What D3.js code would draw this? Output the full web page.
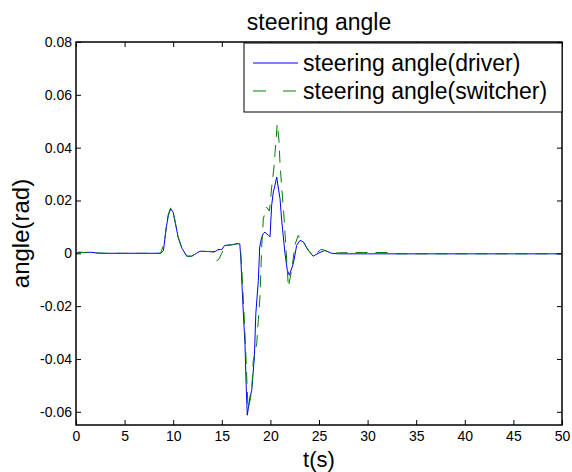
<!DOCTYPE html>
<html><head><meta charset="utf-8">
<script src="https://cdn.jsdelivr.net/npm/d3@7"></script>
<style>body{margin:0;background:#fff}svg{display:block}text{font-family:"Liberation Sans",Arial,sans-serif}</style>
</head><body>
<script>
const titleText = "steering angle";
const xLabel = "t(s)";
const yLabel = "angle(rad)";
const seriesNames = ["steering angle(driver)", "steering angle(switcher)"];
const xTicks = [0,5,10,15,20,25,30,35,40,45,50];
const yTicks = [-0.06,-0.04,-0.02,0,0.02,0.04,0.06,0.08];
const yTickLabels = ["-0.06","-0.04","-0.02","0","0.02","0.04","0.06","0.08"];

const driverT = [0,0.3,0.8,1.5,2.2,3,8.7,9.0,9.15,9.3,9.5,9.74,10.0,10.2,10.5,10.9,11.4,11.9,12.4,12.75,14.1,14.4,14.6,15.0,15.3,16.0,16.7,16.85,16.95,17.15,17.39,17.5,17.62,17.9,18.08,18.35,18.5,18.76,18.9,19.1,19.27,19.44,19.8,19.96,20.13,20.3,20.47,20.65,20.8,20.99,21.16,21.5,21.74,21.95,22.36,22.7,23.05,23.4,23.9,24.4,24.9,25.6,26.3,27,30,35,40,45,50];
const driverV = [0,0.0004,0.0003,0.0004,0.0001,0,0,0.001,0.0057,0.010,0.0144,0.0169,0.0155,0.0119,0.0062,0.0019,-0.0011,-0.0011,0,0.0008,0.0006,0.0008,0.0014,0.0014,0.003,0.0032,0.0037,0.0036,-0.0014,-0.0178,-0.0348,-0.0493,-0.0613,-0.0544,-0.0519,-0.0393,-0.0228,-0.0102,0.0024,0.006,0.0075,0.008,0.0068,0.0062,0.0182,0.0232,0.0257,0.0289,0.0251,0.0207,0.0125,0,-0.0064,-0.0083,-0.0039,0.003,0.0049,0.0043,0.0011,-0.0011,0,0.0011,0,-0.0002,-0.0002,-0.0002,-0.0002,-0.0002,-0.0002];

const switcherT = [0,0.3,0.8,1.5,2.2,3,8.7,8.9,9.15,9.3,9.5,9.74,10.0,10.2,10.5,10.9,11.4,11.9,12.4,12.75,14.1,14.5,14.7,15.15,15.4,16.0,16.7,16.95,17.05,17.25,17.45,17.6,17.7,17.95,18.1,18.24,18.6,18.76,18.93,19.1,19.27,19.6,19.9,20.13,20.37,20.47,20.58,20.7,20.88,20.99,21.16,21.33,21.6,21.85,22.2,22.55,22.87,23.1,23.5,23.9,24.4,24.9,25.2,25.6,26.3,27,29.6,32.4,33,40,50];
const switcherV = [0,0.0004,0.0003,0.0004,0.0001,0,0,0.002,0.0057,0.0105,0.0148,0.0172,0.0155,0.0119,0.0062,0.0019,-0.0011,-0.0011,0,0.0008,0.0006,-0.0028,-0.0022,0.0012,0.003,0.0032,0.0037,0.0005,-0.006,-0.02,-0.036,-0.05,-0.059,-0.055,-0.0506,-0.0405,-0.034,-0.025,-0.0165,0.002,0.013,0.0175,0.016,0.025,0.0327,0.0377,0.0428,0.049,0.0428,0.034,0.025,0.0175,0.002,-0.0128,-0.006,0.0035,0.0068,0.005,0.0035,0.0012,-0.0008,0.0005,0.0015,0.0011,0,0.0002,0.0003,0.0003,-0.0002,-0.0002,-0.0002];

const colors = ["#0000ff", "#008000"];

const W = 572, H = 472;
const m = {left:76, right:562, top:42, bottom:425};
const svg = d3.select("body").append("svg").attr("width",W).attr("height",H);
const x = d3.scaleLinear().domain([0,50]).range([m.left,m.right]);
const y = d3.scaleLinear().domain([-0.065,0.08]).range([m.bottom,m.top]);

// lines
const line = d3.line().x(d=>x(d[0])).y(d=>y(d[1]));
svg.append("path").datum(driverT.map((t,i)=>[t,driverV[i]]))
  .attr("d",line).attr("fill","none").attr("stroke",colors[0]).attr("stroke-width",1);
svg.append("path").datum(switcherT.map((t,i)=>[t,switcherV[i]]))
  .attr("d",line).attr("fill","none").attr("stroke",colors[1]).attr("stroke-width",1)
  .attr("stroke-dasharray","12,8");

// axes with inward ticks
const tl = 5;
const gB = svg.append("g").attr("transform",`translate(0,${m.bottom})`)
  .call(d3.axisBottom(x).tickValues(xTicks).tickSize(-tl).tickPadding(6).tickFormat(d3.format("d")));
const gT = svg.append("g").attr("transform",`translate(0,${m.top})`)
  .call(d3.axisTop(x).tickValues(xTicks).tickSize(-tl).tickFormat(""));
const gL = svg.append("g").attr("transform",`translate(${m.left},0)`)
  .call(d3.axisLeft(y).tickValues(yTicks).tickSize(-tl).tickPadding(4).tickFormat((d,i)=>yTickLabels[i]));
const gR = svg.append("g").attr("transform",`translate(${m.right},0)`)
  .call(d3.axisRight(y).tickValues(yTicks).tickSize(-tl).tickFormat(""));
[gB,gT,gL,gR].forEach(g=>{
  g.select(".domain").remove();
  g.selectAll("line").attr("stroke","#000");
  g.selectAll("text").attr("fill","#000").style("font-size","14px").style("font-family","'Liberation Sans',Arial,sans-serif");
});
svg.append("rect").attr("x",m.left).attr("y",m.top).attr("width",m.right-m.left).attr("height",m.bottom-m.top)
  .attr("fill","none").attr("stroke","#000").attr("stroke-width",1.5);

// legend
const lg = svg.append("g");
lg.append("rect").attr("x",244).attr("y",43).attr("width",m.right-244).attr("height",69)
  .attr("fill","#fff").attr("stroke","#000").attr("stroke-width",1);
seriesNames.forEach((n,i)=>{
  const yy = 63 + i*28;
  lg.append("line").attr("x1",253).attr("x2",298).attr("y1",yy).attr("y2",yy)
    .attr("stroke",colors[i]).attr("stroke-width",1).attr("stroke-dasharray", i ? "13,17" : null);
  lg.append("text").attr("x",303).attr("y",yy+8).style("font-size","23px").text(n);
});

// title & labels
svg.append("text").attr("x",(m.left+m.right)/2).attr("y",30).attr("text-anchor","middle").style("font-size","23px").text(titleText);
svg.append("text").attr("x",(m.left+m.right)/2).attr("y",467).attr("text-anchor","middle").style("font-size","22px").text(xLabel);
svg.append("text").attr("transform",`translate(29,${(m.top+m.bottom)/2}) rotate(-90)`).attr("text-anchor","middle").style("font-size","24px").text(yLabel);
</script>
</body></html>
